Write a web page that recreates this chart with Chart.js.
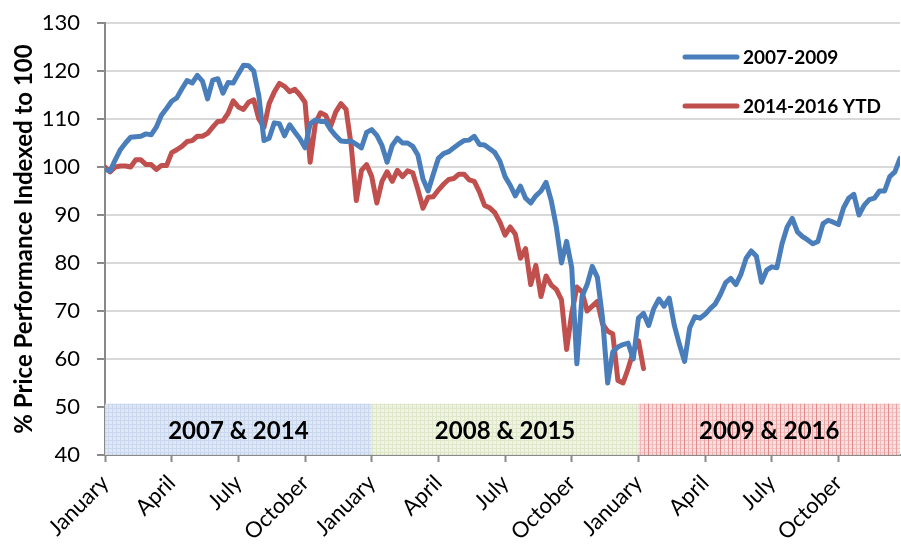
<!DOCTYPE html>
<html>
<head>
<meta charset="utf-8">
<script src="https://cdn.jsdelivr.net/npm/chart.js@4.4.0/dist/chart.umd.min.js"></script>
<style>
  body { margin: 0; background: #fff; }
  canvas { display: block; }
</style>
</head>
<body>
<canvas id="myChart" width="901" height="549"></canvas>
<script>
// weekly closes, indexed to 100 at the first week
const blueValues = [
  99.5, 99.2, 101.5, 103.6, 105, 106.2, 106.3, 106.4, 106.9, 106.7,
  108.3, 110.8, 112.2, 113.7, 114.4, 116.3, 118, 117.5, 119.1, 117.9,
  114.2, 118.1, 118.4, 115.4, 117.6, 117.5, 119.4, 121.2, 121.1, 120,
  114.8, 105.5, 106, 109.2, 109, 106.5, 108.8, 107.3, 105.9, 104,
  109, 109.8, 109.5, 109.5, 107.8, 106.5, 105.4, 105.3, 105.4, 104.7,
  104, 107.2, 107.8, 106.6, 104.5, 101, 104.5, 106, 105, 105,
  104.3, 102.5, 97.5, 95, 98.5, 101.8, 102.8, 103.2, 104, 104.8,
  105.5, 105.6, 106.4, 104.7, 104.6, 103.8, 103, 101.2, 98, 96.2,
  94, 96, 93.5, 92.5, 94, 95, 96.8, 93, 87.5, 80,
  84.5, 79, 59, 73, 75.5, 79.3, 77, 68.6, 55, 61.5,
  62.5, 63, 63.3, 60, 68.5, 69.5, 67, 70.5, 72.5, 71,
  72.7, 67, 63, 59.5, 66.5, 68.8, 68.5, 69.3, 70.5, 71.5,
  73.5, 75.9, 76.8, 75.5, 77.7, 81, 82.5, 81.4, 76, 78.5,
  79.2, 79, 84, 87.5, 89.3, 86.5, 85.5, 84.8, 84, 84.5,
  88.2, 88.9, 88.5, 88, 91.5, 93.5, 94.3, 90, 92, 93.2,
  93.5, 95, 95, 98, 99, 101.8
];

const redValues = [
  100, 99, 100, 100.2, 100.2, 100, 101.5, 101.5, 100.5, 100.5,
  99.5, 100.3, 100.3, 103, 103.6, 104.3, 105.3, 105.5, 106.4, 106.4,
  107, 108.3, 109.5, 109.6, 111.2, 113.8, 112.5, 112, 113.5, 114,
  110, 108.3, 113.2, 115.6, 117.4, 116.8, 115.7, 116.2, 115, 113.5,
  101, 109, 111.3, 110.8, 108.5, 111.5, 113.2, 112, 104.5, 93,
  99.3, 100.5, 98, 92.5, 97, 99, 97, 99.3, 98, 99.2,
  98.8, 95.3, 91.4, 93.7, 93.8, 95.2, 96.4, 97.4, 97.6, 98.5,
  98.5, 97.3, 97, 94.8, 92, 91.5, 90.5, 88.5, 85.8, 87.5,
  86, 81, 83, 75.5, 79.5, 73, 77.3, 75.4, 74.5, 72.3,
  62, 69.5, 75, 74, 70, 71, 72, 67.3, 65.8, 65.2,
  55.5, 55, 58, 61.5, 63.8, 58
];

const seriesNames = ['2007-2009', '2014-2016 YTD'];
const yTitle = '% Price Performance Indexed to 100';

const tickWeeks = [0, 13, 26, 39, 52, 65, 78, 91, 104, 117, 130, 143];
const tickLabels = ['January', 'April', 'July', 'October',
                    'January', 'April', 'July', 'October',
                    'January', 'April', 'July', 'October'];

const bandLabels = ['2007 & 2014', '2008 & 2015', '2009 & 2016'];
const bandStart = [0, 52, 104];
const bandEnd = [52, 104, 155];
const bandTop = 50.7;

const weekNumbers = blueValues.map((v, i) => i);

function makePattern(base, hLine, vLines) {
  const c = document.createElement('canvas');
  c.width = vLines.length * 4;
  c.height = 4;
  const g = c.getContext('2d');
  g.fillStyle = base;
  g.fillRect(0, 0, c.width, c.height);
  g.fillStyle = hLine;
  g.fillRect(0, 0, c.width, 1);
  vLines.forEach((col, i) => {
    g.fillStyle = col;
    g.fillRect(i * 4, 0, 1, 4);
  });
  return g.createPattern(c, 'repeat');
}

const bandFills = [
  makePattern('#dde6f5', '#c4d4ed', ['#c4d4ed']),
  makePattern('#eef3e1', '#dbe6c4', ['#dbe6c4']),
  makePattern('#f8dcdc', '#efbcbc', ['#e27c7c', '#eeb2b2', '#e99898'])
];

const bandPlugin = {
  id: 'bands',
  beforeDatasetsDraw(chart) {
    const ctx = chart.ctx;
    const x = chart.scales.x;
    const y = chart.scales.y;
    const top = y.getPixelForValue(bandTop);
    const bottom = y.getPixelForValue(40);
    ctx.save();
    bandLabels.forEach((label, i) => {
      const x0 = x.getPixelForValue(bandStart[i]);
      const x1 = x.getPixelForValue(bandEnd[i]);
      ctx.globalAlpha = 0.9;
      ctx.fillStyle = bandFills[i];
      ctx.fillRect(x0, top, x1 - x0, bottom - top);
      ctx.globalAlpha = 1;
      ctx.fillStyle = '#000';
      ctx.font = 'bold 24px Lato';
      ctx.textAlign = 'center';
      ctx.textBaseline = 'middle';
      ctx.fillText(label, (x0 + x1) / 2, (top + bottom) / 2 + 2);
    });
    ctx.restore();
  }
};

const titlePlugin = {
  id: 'yTitle',
  afterDraw(chart) {
    const ctx = chart.ctx;
    const area = chart.chartArea;
    ctx.save();
    ctx.translate(24, (area.top + area.bottom) / 2);
    ctx.rotate(-Math.PI / 2);
    ctx.fillStyle = '#000';
    ctx.font = 'bold 24px Lato';
    ctx.textAlign = 'center';
    ctx.textBaseline = 'middle';
    ctx.fillText(yTitle, 0, 0);
    ctx.restore();
  }
};

const legendPlugin = {
  id: 'insideLegend',
  afterDraw(chart) {
    const ctx = chart.ctx;
    const area = chart.chartArea;
    ctx.save();
    chart.data.datasets.forEach((ds, i) => {
      const ly = area.top + 34 + i * 49;
      const lx = area.right - 215;
      ctx.strokeStyle = ds.borderColor;
      ctx.lineWidth = 5;
      ctx.lineCap = 'round';
      ctx.beginPath();
      ctx.moveTo(lx, ly);
      ctx.lineTo(lx + 52, ly);
      ctx.stroke();
      ctx.fillStyle = '#000';
      ctx.font = 'bold 19px Lato';
      ctx.textAlign = 'left';
      ctx.textBaseline = 'middle';
      ctx.fillText(ds.label, lx + 58, ly + 1);
    });
    ctx.restore();
  }
};

const ctx = document.getElementById('myChart');

new Chart(ctx, {
  type: 'line',
  data: {
    labels: weekNumbers,
    datasets: [{
      label: seriesNames[0],
      data: blueValues,
      borderColor: '#4a7ebb',
      borderWidth: 5,
      pointRadius: 0,
      tension: 0,
      borderJoinStyle: 'round',
      borderCapStyle: 'round',
      fill: false
    }, {
      label: seriesNames[1],
      data: redValues,
      borderColor: '#c0504d',
      borderWidth: 5,
      pointRadius: 0,
      tension: 0,
      borderJoinStyle: 'round',
      borderCapStyle: 'round',
      fill: false
    }]
  },
  options: {
    responsive: false,
    animation: false,
    layout: {
      padding: { top: 0, right: 1, left: 0, bottom: 0 }
    },
    plugins: {
      legend: { display: false },
      tooltip: { enabled: false }
    },
    scales: {
      x: {
        type: 'linear',
        min: 0,
        max: 155,
        afterBuildTicks: (scale) => {
          scale.ticks = tickWeeks.map(v => ({ value: v }));
        },
        afterFit: (scale) => {
          scale.height = 94;
        },
        border: { display: true, color: '#898989', width: 2 },
        grid: {
          drawOnChartArea: false,
          drawTicks: true,
          tickLength: 7,
          tickColor: '#898989',
          tickWidth: 2
        },
        ticks: {
          autoSkip: false,
          minRotation: 45,
          maxRotation: 45,
          padding: 8,
          color: '#000',
          font: { family: 'Lato', size: 22 },
          callback: (value, index) => tickLabels[index]
        }
      },
      y: {
        min: 40,
        max: 130,
        afterFit: (scale) => {
          scale.width = 105;
          scale.paddingTop = 23;
          scale.paddingBottom = 0;
        },
        border: { display: true, color: '#898989', width: 2 },
        grid: {
          color: '#d9d9d9',
          lineWidth: 2,
          tickLength: 8,
          tickColor: '#898989',
          tickWidth: 2
        },
        ticks: {
          stepSize: 10,
          padding: 17,
          color: '#000',
          font: { family: 'Lato', size: 22 }
        }
      }
    }
  },
  plugins: [bandPlugin, titlePlugin, legendPlugin]
});
</script>
</body>
</html>
